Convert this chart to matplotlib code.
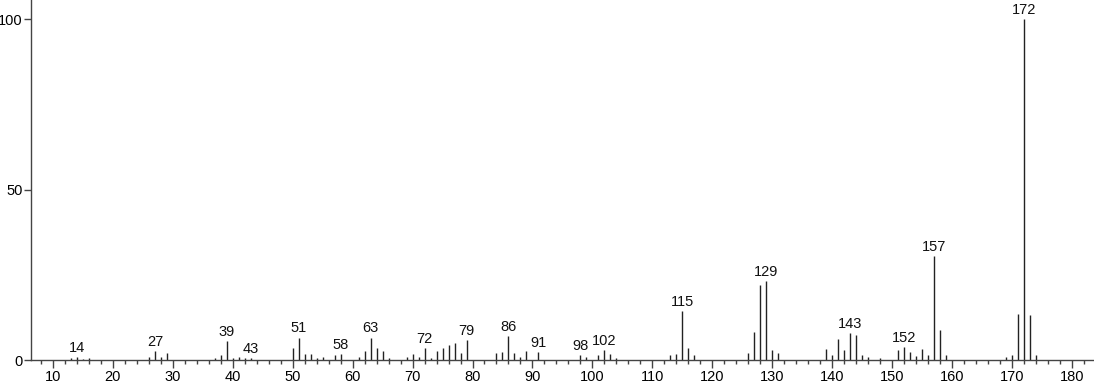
import matplotlib
matplotlib.use("Agg")
import matplotlib.pyplot as plt
from matplotlib.ticker import MultipleLocator

plt.rcParams['font.family'] = ['Liberation Sans', 'DejaVu Sans']

mz = [13, 14, 15, 16, 26, 27, 28, 29, 37, 38, 39, 40, 41, 42, 43,
      50, 51, 52, 53, 54, 55, 57, 58, 61, 62, 63, 64, 65, 66,
      69, 70, 71, 72, 73, 74, 75, 76, 77, 78, 79,
      84, 85, 86, 87, 88, 89, 91, 98, 99, 101, 102, 103, 104,
      113, 114, 115, 116, 117, 126, 127, 128, 129, 130, 131,
      139, 140, 141, 142, 143, 144, 145, 146, 148,
      151, 152, 153, 154, 155, 156, 157, 158, 159,
      169, 170, 171, 172, 173, 174]
intensity = [0.5, 0.8, 0.4, 0.5, 0.8, 2.6, 1.0, 2.2, 0.7, 1.5, 5.6, 0.7, 0.8, 0.5, 0.6,
             3.4, 6.6, 1.7, 1.7, 0.7, 0.9, 1.4, 1.7, 0.8, 2.6, 6.6, 3.4, 2.6, 0.7,
             0.9, 1.7, 0.8, 3.4, 0.5, 2.6, 3.4, 4.4, 5.1, 2.0, 5.9,
             2.0, 2.4, 7.0, 2.0, 1.0, 2.6, 2.3, 1.4, 0.8, 1.4, 2.8, 1.9, 0.6,
             1.4, 1.7, 14.4, 3.4, 1.4, 2.0, 8.3, 22.0, 23.2, 2.8, 2.0,
             3.2, 1.5, 6.1, 2.9, 7.8, 7.3, 1.6, 0.8, 0.6,
             3.0, 3.8, 2.3, 1.3, 3.2, 1.5, 30.5, 8.8, 1.5,
             0.8, 1.5, 13.5, 100.0, 13.2, 1.5]
labeled = [14, 27, 39, 43, 51, 58, 63, 72, 79, 86, 91, 98, 102,
           115, 129, 143, 152, 157, 172]

fig = plt.figure(figsize=(10.94, 3.84), dpi=100)
ax = fig.add_axes([31 / 1094, 24 / 384, 1 - 31 / 1094, 360 / 384])

ax.vlines(mz, 0, intensity, color='#222222', lw=1.0)
lookup = dict(zip(mz, intensity))
for m in labeled:
    ax.annotate(str(m), (m, lookup[m]), xytext=(0, 1.5), textcoords='offset points',
                ha='center', va='bottom', fontsize=10.5, color='#111111')

ax.set_xlim(6.33, 183.7)
ax.set_ylim(0, 105.6)
ax.xaxis.set_major_locator(MultipleLocator(10))
ax.xaxis.set_minor_locator(MultipleLocator(2))
ax.set_yticks([0, 50, 100])
for s in ['top', 'right']:
    ax.spines[s].set_visible(False)
for s in ['left', 'bottom']:
    ax.spines[s].set_color('#444444')
    ax.spines[s].set_linewidth(1.0)
ax.tick_params(axis='x', which='major', length=6, width=1, color='#444444', labelsize=10.5, pad=1.5)
ax.tick_params(axis='x', which='minor', length=3, width=1, color='#444444')
ax.tick_params(axis='y', which='major', length=5, width=1, color='#444444', labelsize=10.5, pad=1)

fig.savefig('out.png', dpi=100)
